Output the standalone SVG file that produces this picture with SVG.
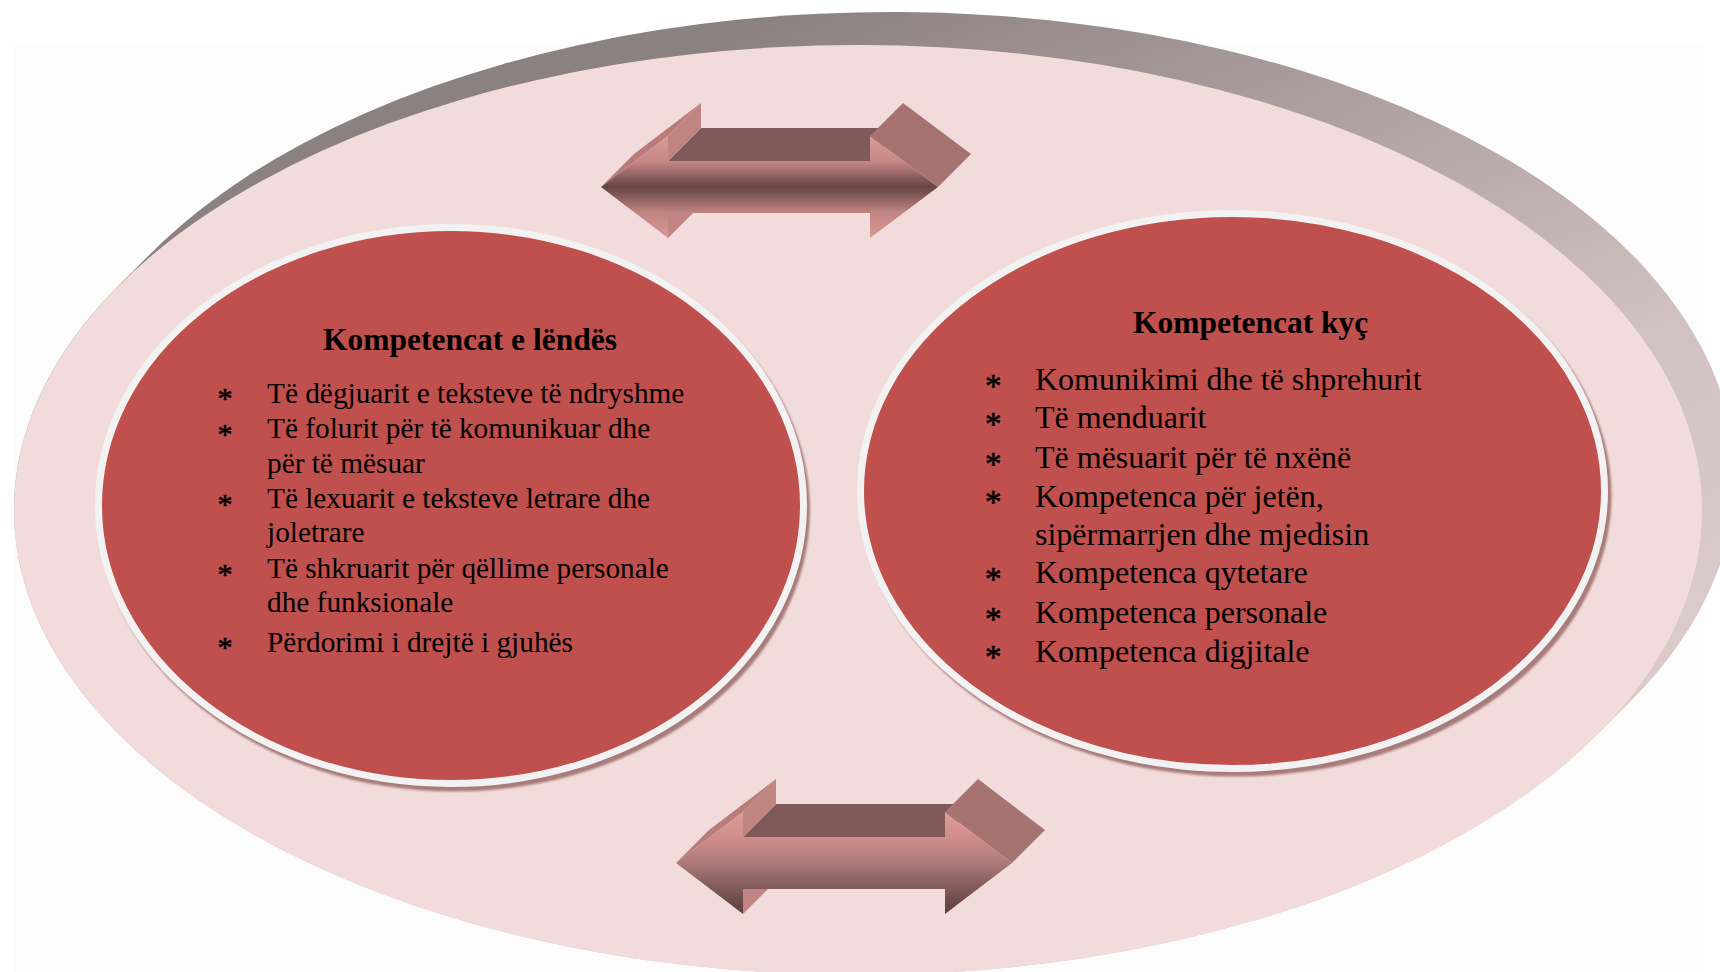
<svg xmlns="http://www.w3.org/2000/svg" width="1720" height="972" viewBox="0 0 1720 972">
<defs>
<linearGradient id="gExt" gradientUnits="userSpaceOnUse" x1="820" y1="0" x2="1150" y2="820">
<stop offset="0" stop-color="#8c8181"/>
<stop offset="0.3" stop-color="#ab9d9d"/>
<stop offset="0.7" stop-color="#d2c1c1"/>
<stop offset="1" stop-color="#dccaca"/>
</linearGradient>
<linearGradient id="gTop" gradientUnits="userSpaceOnUse" x1="0" y1="136" x2="0" y2="238">
<stop offset="0" stop-color="#da9b99"/>
<stop offset="0.25" stop-color="#c68886"/>
<stop offset="0.5" stop-color="#654444"/>
<stop offset="0.75" stop-color="#c08482"/>
<stop offset="1" stop-color="#d99896"/>
</linearGradient>
<linearGradient id="gBot" gradientUnits="userSpaceOnUse" x1="0" y1="812" x2="0" y2="914">
<stop offset="0" stop-color="#dc9c9a"/>
<stop offset="0.25" stop-color="#d08d8b"/>
<stop offset="0.5" stop-color="#ac7977"/>
<stop offset="0.75" stop-color="#7f5a58"/>
<stop offset="1" stop-color="#5c3e3e"/>
</linearGradient>
<filter id="soft" x="-5%" y="-5%" width="110%" height="110%">
<feGaussianBlur stdDeviation="1.2"/>
</filter>
</defs>
<style>
.face{fill:#f2dcdb}
.red{fill:#c0504d;stroke:#f2f2f2;stroke-width:7}
.shadow{fill:#a87c7c}
.topf{fill:#805959}
.strip{fill:#c08482}
.diag{fill:#b97c7a}
.rhead{fill:#a67370}
.t{font-family:"Liberation Serif","Times New Roman",serif;fill:#000}
.title{font-weight:bold;font-size:31.5px}
.l{font-size:29.3px}
.r{font-size:32px}
.bl{font-size:30px;stroke:#000;stroke-width:0.6}
.br{font-size:33px;stroke:#000;stroke-width:0.6}
</style>
<rect x="0" y="0" width="1720" height="972" fill="#ffffff"/>
<rect x="14" y="45" width="1690" height="927" fill="#fdfcfc"/>

<g id="outer">
<path d="M118.7,285.5 L151.7,252.5 A844,465 0 0 1 1630.3,701.5 L1597.3,734.5 A844,465 0 0 1 118.7,285.5 Z" fill="url(#gExt)"/>
<ellipse class="face" cx="858" cy="510" rx="844" ry="465"/>
</g>

<g id="connectors">
<g id="arrow-top">
<polygon class="topf" points="668,161 870,161 903,128 701,128"/>
<polygon class="diag" points="601,187 668,136 701,103 634,154"/>
<polygon class="strip" points="668,136 668,161 701,128 701,103"/>
<polygon class="strip" points="668,213 668,238 701,205 701,180"/>
<polygon class="rhead" points="870,136 938,187 971,154 903,103"/>
<polygon fill="url(#gTop)" points="601,187 668,136 668,161 870,161 870,136 938,187 870,238 870,213 668,213 668,238"/>
</g>
<g id="arrow-bottom">
<polygon class="topf" points="743,837 945,837 978,804 776,804"/>
<polygon class="diag" points="676,863 743,812 776,779 709,830"/>
<polygon class="strip" points="743,812 743,837 776,804 776,779"/>
<polygon class="strip" points="743,889 743,914 776,881 776,856"/>
<polygon class="rhead" points="945,812 1012,863 1045,830 978,779"/>
<polygon fill="url(#gBot)" points="676,863 743,812 743,837 945,837 945,812 1012,863 945,914 945,889 743,889 743,914"/>
</g>
</g>

<g id="node-lendes">
<ellipse class="shadow" cx="454" cy="510" rx="356" ry="281.5" filter="url(#soft)"/>
<ellipse class="red" cx="451" cy="505.5" rx="352.5" ry="278"/>
<text class="t title" x="323" y="350">Kompetencat e lëndës</text>
<g class="t bl">
<text x="217.5" y="408.1">*</text>
<text x="217.5" y="443.7">*</text>
<text x="217.5" y="513.7">*</text>
<text x="217.5" y="583.7">*</text>
<text x="217.5" y="657.1">*</text>
</g>
<g class="t l">
<text x="267" y="402.7">Të dëgjuarit e teksteve të ndryshme</text>
<text x="267" y="438.3">Të folurit për të komunikuar dhe</text>
<text x="267" y="473.3">për të mësuar</text>
<text x="267" y="508.3">Të lexuarit e teksteve letrare dhe</text>
<text x="267" y="541.7">joletrare</text>
<text x="267" y="578.3">Të shkruarit për qëllime personale</text>
<text x="267" y="611.7">dhe funksionale</text>
<text x="267" y="651.7">Përdorimi i drejtë i gjuhës</text>
</g>
</g>

<g id="node-kyc">
<ellipse class="shadow" cx="1236" cy="495.5" rx="375.5" ry="281" filter="url(#soft)"/>
<ellipse class="red" cx="1232.5" cy="491" rx="372" ry="277.5"/>
<text class="t title" x="1133" y="333.3">Kompetencat kyç</text>
<g class="t br">
<text x="985" y="396.5">*</text>
<text x="985" y="434.8">*</text>
<text x="985" y="474.8">*</text>
<text x="985" y="513.2">*</text>
<text x="985" y="589.8">*</text>
<text x="985" y="629.8">*</text>
<text x="985" y="668.2">*</text>
</g>
<g class="t r">
<text x="1035" y="390">Komunikimi dhe të shprehurit</text>
<text x="1035" y="428.3">Të menduarit</text>
<text x="1035" y="468.3">Të mësuarit për të nxënë</text>
<text x="1035" y="506.7">Kompetenca për jetën,</text>
<text x="1035" y="545">sipërmarrjen dhe mjedisin</text>
<text x="1035" y="583.3">Kompetenca qytetare</text>
<text x="1035" y="623.3">Kompetenca personale</text>
<text x="1035" y="661.7">Kompetenca digjitale</text>
</g>
</g>
</svg>
